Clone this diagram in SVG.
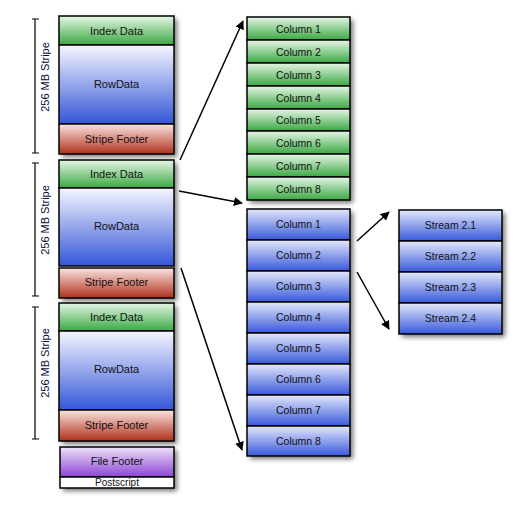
<svg xmlns="http://www.w3.org/2000/svg" width="517" height="512" viewBox="0 0 517 512">
<defs>
<linearGradient id="gGreen" x1="0" y1="0" x2="0" y2="1"><stop offset="0" stop-color="#e6f6e6"/><stop offset="1" stop-color="#3aa842"/></linearGradient>
<linearGradient id="gBlue" x1="0" y1="0" x2="0" y2="1"><stop offset="0" stop-color="#f6f6ff"/><stop offset="1" stop-color="#3456d8"/></linearGradient>
<linearGradient id="gRowBlue" x1="0" y1="0" x2="0" y2="1"><stop offset="0" stop-color="#e4e9fc"/><stop offset="1" stop-color="#3858da"/></linearGradient>
<linearGradient id="gRed" x1="0" y1="0" x2="0" y2="1"><stop offset="0" stop-color="#fae4e0"/><stop offset="1" stop-color="#b0301c"/></linearGradient>
<linearGradient id="gPurple" x1="0" y1="0" x2="0" y2="1"><stop offset="0" stop-color="#f0e2fa"/><stop offset="1" stop-color="#8a44d2"/></linearGradient>
<filter id="shadow" x="-20%" y="-20%" width="140%" height="140%"><feDropShadow dx="3" dy="3" stdDeviation="2.5" flood-color="#000" flood-opacity="0.55"/></filter>
<marker id="arrow" viewBox="0 0 10 10" refX="9" refY="5" markerWidth="9" markerHeight="9" markerUnits="userSpaceOnUse" orient="auto"><path d="M0,0 L10,5 L0,10 z" fill="#000"/></marker>
<style>
.cell{stroke:#000;stroke-width:1.5}
.t{font-family:"Liberation Sans",Arial,sans-serif;font-size:11px;fill:#111;text-anchor:middle;dominant-baseline:central}
.c{font-size:10.5px}
.lbl{font-family:"Liberation Sans",Arial,sans-serif;font-size:11px;fill:#0a0a3a;text-anchor:middle;dominant-baseline:central}
.br{stroke:#000;stroke-width:1.2;fill:none}
.conn{stroke:#000;stroke-width:1.5;fill:none;marker-end:url(#arrow)}
</style>
</defs>
<rect width="517" height="512" fill="#fff"/>

<g id="stripe1">
<g filter="url(#shadow)"><rect x="59" y="16" width="115" height="138" fill="#fff"/></g>
<rect class="cell" x="59" y="16" width="115" height="29" fill="url(#gGreen)"/>
<rect class="cell" x="59" y="45" width="115" height="79" fill="url(#gBlue)"/>
<rect class="cell" x="59" y="124" width="115" height="30" fill="url(#gRed)"/>
<text class="t" x="116.5" y="31">Index Data</text>
<text class="t" x="116.5" y="84">RowData</text>
<text class="t" x="116.5" y="139">Stripe Footer</text>
</g>

<g id="stripe2">
<g filter="url(#shadow)"><rect x="59" y="160" width="115" height="138" fill="#fff"/></g>
<rect class="cell" x="59" y="160" width="115" height="28" fill="url(#gGreen)"/>
<rect class="cell" x="59" y="188" width="115" height="78" fill="url(#gBlue)"/>
<rect class="cell" x="59" y="268" width="115" height="30" fill="url(#gRed)"/>
<text class="t" x="116.5" y="174">Index Data</text>
<text class="t" x="116.5" y="226">RowData</text>
<text class="t" x="116.5" y="282">Stripe Footer</text>
</g>

<g id="stripe3">
<g filter="url(#shadow)"><rect x="59" y="303" width="115" height="138" fill="#fff"/></g>
<rect class="cell" x="59" y="303" width="115" height="28" fill="url(#gGreen)"/>
<rect class="cell" x="59" y="331" width="115" height="79" fill="url(#gBlue)"/>
<rect class="cell" x="59" y="410" width="115" height="31" fill="url(#gRed)"/>
<text class="t" x="116.5" y="317">Index Data</text>
<text class="t" x="116.5" y="369">RowData</text>
<text class="t" x="116.5" y="425">Stripe Footer</text>
</g>

<g id="fileFooter">
<g filter="url(#shadow)"><rect x="60" y="447" width="114" height="41" fill="#fff"/></g>
<rect class="cell" x="60" y="447" width="114" height="30" fill="url(#gPurple)"/>
<rect class="cell" x="60" y="477" width="114" height="11" fill="#fff"/>
<text class="t" x="117" y="461">File Footer</text>
<text class="t" x="117" y="482" style="font-size:10px">Postscript</text>
</g>

<g id="stripeLabels">
<path class="br" d="M35,19 V153 M32,19 H39 M32,153 H39"/>
<text class="lbl" transform="translate(45,77) rotate(-90)">256 MB Stripe</text>
<path class="br" d="M35,163 V296 M32,163 H39 M32,296 H39"/>
<text class="lbl" transform="translate(45,220) rotate(-90)">256 MB Stripe</text>
<path class="br" d="M35,307 V439 M32,307 H39 M32,439 H39"/>
<text class="lbl" transform="translate(45,363) rotate(-90)">256 MB Stripe</text>
</g>

<g id="indexColumns">
<g filter="url(#shadow)"><rect x="247" y="17" width="103" height="183" fill="#fff"/></g>
<rect class="cell" x="247" y="17" width="103" height="23" fill="url(#gGreen)"/>
<rect class="cell" x="247" y="40" width="103" height="23" fill="url(#gGreen)"/>
<rect class="cell" x="247" y="63" width="103" height="23" fill="url(#gGreen)"/>
<rect class="cell" x="247" y="86" width="103" height="23" fill="url(#gGreen)"/>
<rect class="cell" x="247" y="109" width="103" height="22" fill="url(#gGreen)"/>
<rect class="cell" x="247" y="131" width="103" height="23" fill="url(#gGreen)"/>
<rect class="cell" x="247" y="154" width="103" height="23" fill="url(#gGreen)"/>
<rect class="cell" x="247" y="177" width="103" height="23" fill="url(#gGreen)"/>
<text class="t c" x="298.5" y="28.5">Column 1</text>
<text class="t c" x="298.5" y="51.5">Column 2</text>
<text class="t c" x="298.5" y="74.5">Column 3</text>
<text class="t c" x="298.5" y="97.5">Column 4</text>
<text class="t c" x="298.5" y="120">Column 5</text>
<text class="t c" x="298.5" y="142.5">Column 6</text>
<text class="t c" x="298.5" y="165.5">Column 7</text>
<text class="t c" x="298.5" y="188.5">Column 8</text>
</g>

<g id="dataColumns">
<g filter="url(#shadow)"><rect x="247" y="209" width="103" height="247" fill="#fff"/></g>
<rect class="cell" x="247" y="209" width="103" height="31" fill="url(#gRowBlue)"/>
<rect class="cell" x="247" y="240" width="103" height="31" fill="url(#gRowBlue)"/>
<rect class="cell" x="247" y="271" width="103" height="31" fill="url(#gRowBlue)"/>
<rect class="cell" x="247" y="302" width="103" height="31" fill="url(#gRowBlue)"/>
<rect class="cell" x="247" y="333" width="103" height="31" fill="url(#gRowBlue)"/>
<rect class="cell" x="247" y="364" width="103" height="31" fill="url(#gRowBlue)"/>
<rect class="cell" x="247" y="395" width="103" height="31" fill="url(#gRowBlue)"/>
<rect class="cell" x="247" y="426" width="103" height="30" fill="url(#gRowBlue)"/>
<text class="t c" x="298.5" y="224">Column 1</text>
<text class="t c" x="298.5" y="255">Column 2</text>
<text class="t c" x="298.5" y="286">Column 3</text>
<text class="t c" x="298.5" y="317">Column 4</text>
<text class="t c" x="298.5" y="348">Column 5</text>
<text class="t c" x="298.5" y="379">Column 6</text>
<text class="t c" x="298.5" y="410">Column 7</text>
<text class="t c" x="298.5" y="440.5">Column 8</text>
</g>

<g id="streams">
<g filter="url(#shadow)"><rect x="399" y="210" width="103" height="124" fill="#fff"/></g>
<rect class="cell" x="399" y="210" width="103" height="31" fill="url(#gRowBlue)"/>
<rect class="cell" x="399" y="241" width="103" height="31" fill="url(#gRowBlue)"/>
<rect class="cell" x="399" y="272" width="103" height="31" fill="url(#gRowBlue)"/>
<rect class="cell" x="399" y="303" width="103" height="31" fill="url(#gRowBlue)"/>
<text class="t c" x="450.5" y="225">Stream 2.1</text>
<text class="t c" x="450.5" y="256">Stream 2.2</text>
<text class="t c" x="450.5" y="287">Stream 2.3</text>
<text class="t c" x="450.5" y="318">Stream 2.4</text>
</g>

<g id="connectors">
<line class="conn" x1="180" y1="160" x2="243" y2="21"/>
<line class="conn" x1="179" y1="191" x2="242" y2="203"/>
<line class="conn" x1="181" y1="268" x2="242" y2="450"/>
<line class="conn" x1="357" y1="241" x2="389" y2="212"/>
<line class="conn" x1="357" y1="272" x2="389" y2="329"/>
</g>
</svg>
